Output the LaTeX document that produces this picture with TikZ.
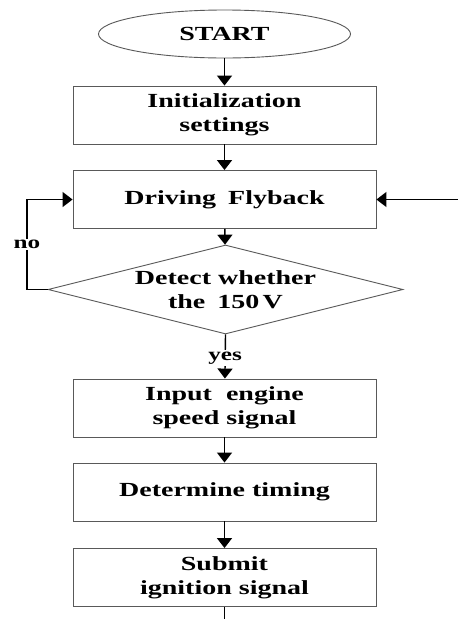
\documentclass[tikz,border=0pt]{standalone}
\usepackage{fontspec}
\setmainfont{Liberation Serif}[FakeStretch=1.4]
\usetikzlibrary{shapes.geometric,arrows.meta}
\tikzset{
  base/.style={draw=black!65, line width=0.9pt, font=\bfseries\fontsize{20}{24}\selectfont, align=center, inner sep=0pt},
  procbox/.style={base, rectangle, minimum width=303pt, minimum height=58pt},
  terminal/.style={base, ellipse, minimum width=252pt, minimum height=48pt},
  decision/.style={base, diamond, aspect=4, minimum width=355pt, minimum height=89pt},
  flow/.style={line width=1.4pt, -{Triangle[width=15pt,length=10pt]}},
  plainline/.style={line width=1.4pt},
  lbl/.style={fill=white, inner sep=1.5pt, font=\bfseries\fontsize{18}{20}\selectfont}
}
\begin{document}
\begin{tikzpicture}[x=1pt,y=-1pt]
  \useasboundingbox (0,0) rectangle (458,619);

  % flowchart blocks
  \node[terminal] (start)  at (224.5,34)    {START};
  \node[procbox]  (init)   at (224.5,115)   {Initialization\\settings};
  \node[procbox]  (drive)  at (224.5,199.5) {Driving\hspace{0.6em}Flyback};
  \node[decision] (detect) at (225.5,289.5) {Detect whether\\the\hspace{0.6em}150\,V};
  \node[procbox]  (inp)    at (224.5,408)   {Input\hspace{0.7em}engine\\speed signal};
  \node[procbox]  (timing) at (224.5,492)   {Determine timing};
  \node[procbox]  (submit) at (224.5,577.5) {Submit\\ignition signal};

  % free ends of the feed-in, loop and exit lines
  \coordinate (feedin)  at (458,199.5);
  \coordinate (nocorn)  at (27,289.5);
  \coordinate (exitend) at (224.5,619);

  % connectors
  \draw[flow] (start) -- (init);
  \draw[flow] (init) -- (drive);
  \draw[flow] (drive) -- (detect);
  \draw[flow] (detect.west) -- (nocorn) |- node[pos=0.25, lbl] {no} (drive.west);
  \draw[flow] (feedin) -- (drive.east);
  \draw[flow] (detect.south) -- node[pos=0.53, lbl] {yes} (inp);
  \draw[flow] (inp) -- (timing);
  \draw[flow] (timing) -- (submit);
  \draw[plainline] (submit) -- (exitend);
\end{tikzpicture}
\end{document}
